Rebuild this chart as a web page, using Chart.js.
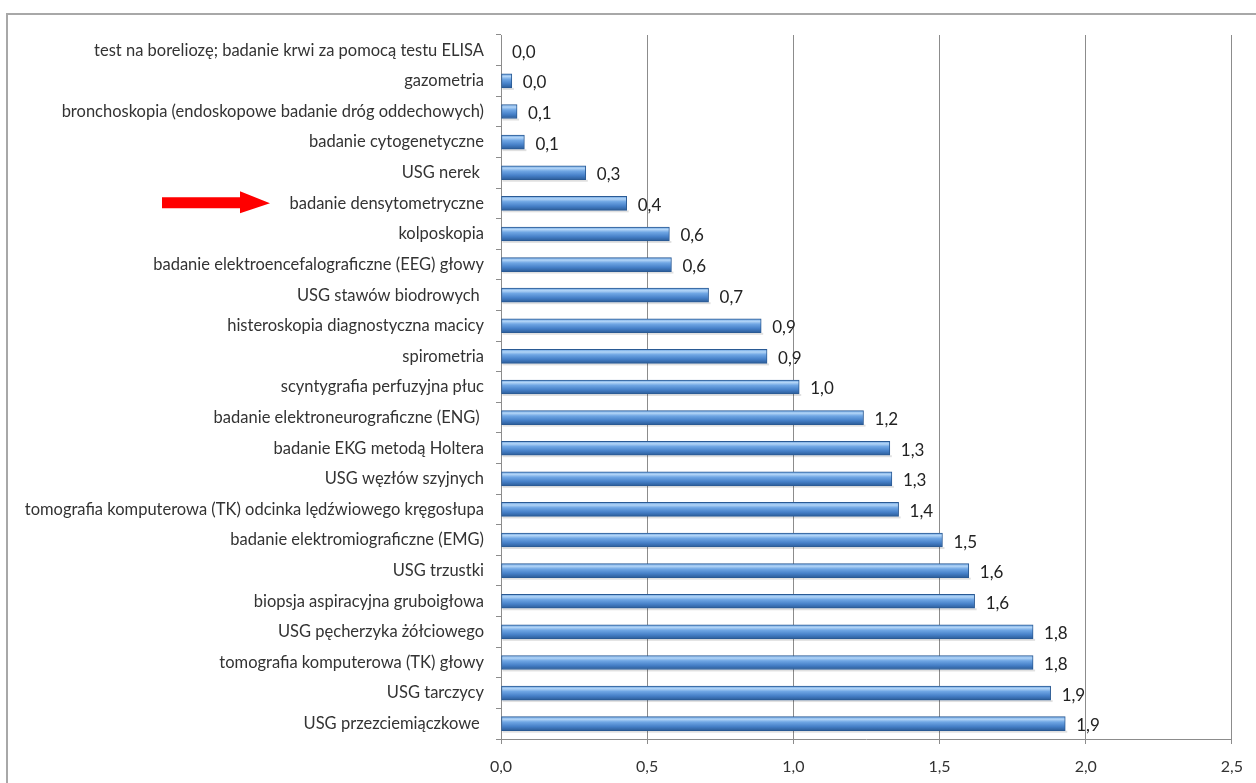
<!DOCTYPE html>
<html>
<head>
<meta charset="utf-8">
<script src="https://cdn.jsdelivr.net/npm/chart.js@4/dist/chart.umd.min.js"></script>
<style>
  html, body { margin: 0; padding: 0; background: #fff; }
  canvas { display: block; }
</style>
</head>
<body>
<canvas id="chart" width="1256" height="783"></canvas>
<script>
// badania diagnostyczne - wartosci wskaznika
const categories = [
  "test na boreliozę; badanie krwi za pomocą testu ELISA",
  "gazometria",
  "bronchoskopia (endoskopowe badanie dróg oddechowych)",
  "badanie cytogenetyczne",
  "USG nerek ",
  "badanie densytometryczne",
  "kolposkopia",
  "badanie elektroencefalograficzne (EEG) głowy",
  "USG stawów biodrowych ",
  "histeroskopia diagnostyczna macicy",
  "spirometria",
  "scyntygrafia perfuzyjna płuc",
  "badanie elektroneurograficzne (ENG) ",
  "badanie EKG metodą Holtera",
  "USG węzłów szyjnych",
  "tomografia komputerowa (TK) odcinka lędźwiowego kręgosłupa",
  "badanie elektromiograficzne (EMG)",
  "USG trzustki",
  "biopsja aspiracyjna gruboigłowa",
  "USG pęcherzyka żółciowego",
  "tomografia komputerowa (TK) głowy",
  "USG tarczycy",
  "USG przezciemiączkowe "
];
const values = [
  0.0, 0.037, 0.055, 0.08, 0.29, 0.43, 0.576, 0.583, 0.71, 0.89, 0.91, 1.02,
  1.24, 1.33, 1.337, 1.36, 1.51, 1.6, 1.62, 1.82, 1.82, 1.88, 1.93
];
const xTicks = [0, 0.5, 1.0, 1.5, 2.0, 2.5];
const highlighted = "badanie densytometryczne";

const FONT = "Lato, 'Open Sans', sans-serif";
const fmt = (v) => v.toFixed(1).replace(".", ",");

// cylinder-like shading for each bar
function barFill(context) {
  const chart = context.chart;
  if (!chart.chartArea) return "#4a85cc";
  const y = chart.scales.y.getPixelForValue(context.dataIndex);
  const g = chart.ctx.createLinearGradient(0, y - 7, 0, y + 7);
  g.addColorStop(0, "#6aa2e0");
  g.addColorStop(0.18, "#b3d5f7");
  g.addColorStop(0.38, "#6fa6e4");
  g.addColorStop(0.7, "#4680c8");
  g.addColorStop(1, "#2b5c98");
  return g;
}

const frame = {
  id: "frame",
  beforeDraw(chart) {
    const ctx = chart.ctx;
    ctx.save();
    ctx.strokeStyle = "#a8a8a8";
    ctx.lineWidth = 2;
    ctx.beginPath();
    ctx.moveTo(7, chart.height);
    ctx.lineTo(7, 14);
    ctx.lineTo(chart.width, 14);
    ctx.stroke();
    ctx.restore();
  }
};

// soft shadow under the bars
const barShadow = {
  id: "barShadow",
  beforeDatasetsDraw(chart) {
    const ctx = chart.ctx;
    ctx.save();
    ctx.fillStyle = "rgba(0,0,0,0.12)";
    chart.getDatasetMeta(0).data.forEach((bar) => {
      const w = bar.x - bar.base;
      if (w > 0) ctx.fillRect(bar.base + 1, bar.y + 7, w + 1, 2);
    });
    ctx.restore();
  }
};

const valueLabels = {
  id: "valueLabels",
  afterDatasetsDraw(chart) {
    const ctx = chart.ctx;
    const meta = chart.getDatasetMeta(0);
    ctx.save();
    ctx.font = "17px " + FONT;
    ctx.fillStyle = "#222";
    ctx.textAlign = "left";
    ctx.textBaseline = "middle";
    meta.data.forEach((bar, i) => {
      ctx.fillText(fmt(values[i]), bar.x + 11, bar.y + 2);
    });
    ctx.restore();
  }
};

// red arrow pointing at the highlighted category
const arrow = {
  id: "arrow",
  afterDraw(chart) {
    const idx = categories.indexOf(highlighted);
    const y = chart.scales.y.getPixelForValue(idx);
    const ctx = chart.ctx;
    ctx.save();
    ctx.fillStyle = "#ff0000";
    ctx.beginPath();
    ctx.moveTo(162, y - 6);
    ctx.lineTo(240, y - 6);
    ctx.lineTo(240, y - 12);
    ctx.lineTo(270, y);
    ctx.lineTo(240, y + 10);
    ctx.lineTo(240, y + 5);
    ctx.lineTo(162, y + 5);
    ctx.closePath();
    ctx.fill();
    ctx.restore();
  }
};

new Chart(document.getElementById("chart"), {
  type: "bar",
  data: {
    labels: categories,
    datasets: [{
      data: values,
      backgroundColor: barFill,
      borderColor: "#2a5a94",
      borderWidth: 1,
      borderSkipped: false,
      barThickness: 14
    }]
  },
  plugins: [frame, barShadow, valueLabels, arrow],
  options: {
    indexAxis: "y",
    responsive: false,
    animation: false,
    layout: { padding: { top: 35, right: 22, left: 0, bottom: 0 } },
    plugins: {
      legend: { display: false },
      tooltip: { enabled: false }
    },
    scales: {
      x: {
        min: 0,
        max: 2.5,
        afterBuildTicks(scale) {
          scale.ticks = xTicks.map((v) => ({ value: v }));
        },
        afterFit(scale) { scale.height = 44; },
        grid: {
          color: "#8c8c8c",
          lineWidth: 1,
          drawTicks: true,
          tickLength: 5
        },
        border: { color: "#8c8c8c" },
        ticks: {
          padding: 13,
          color: "#333",
          font: { family: FONT, size: 16 },
          callback: (v) => fmt(v)
        }
      },
      y: {
        afterFit(scale) { scale.width = 501; },
        grid: {
          drawOnChartArea: false,
          drawTicks: true,
          tickLength: 5,
          color: "#8c8c8c"
        },
        border: { color: "#8c8c8c" },
        ticks: {
          padding: 12,
          color: "#333",
          autoSkip: false,
          font: { family: FONT, size: 16.5 }
        }
      }
    }
  }
});
</script>
</body>
</html>
